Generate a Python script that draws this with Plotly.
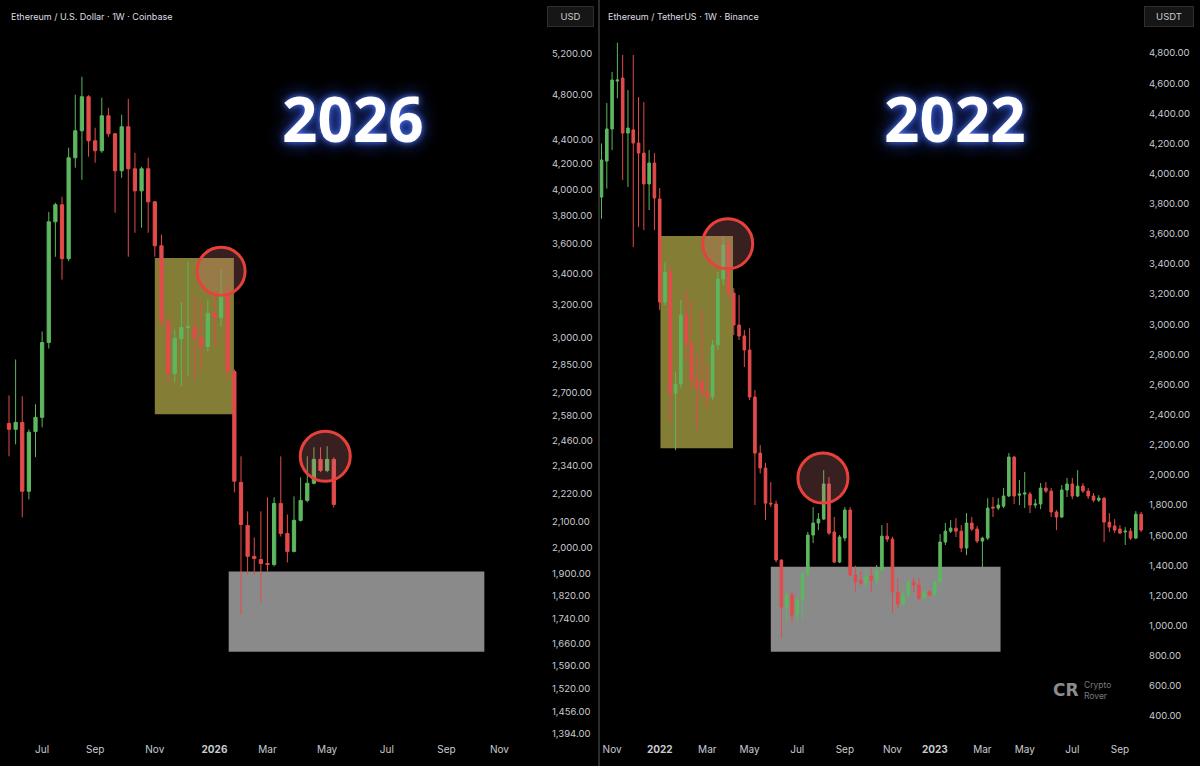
import math
import pandas as pd
import plotly.graph_objects as go

W, H = 1200, 766

# ---------------- LEFT PANEL : Ethereum / U.S. Dollar, 1W, Coinbase ----------------
left_start = "2025-06-02"
left_open = [2542, 2513, 2547, 2229, 2503, 2572, 2973, 3756, 3882, 3497, 4252, 4480, 4785, 4394, 4310,
             4612, 4454, 4146, 4515, 4162, 3988, 4162, 3904, 3586, 3096, 2800, 2996, 3061, 3061, 3002,
             2950, 3144, 3120, 3275, 2811, 2268, 2086, 1965, 1953, 1938, 1934, 2177, 2054, 1984, 2107,
             2190, 2264, 2371, 2321, 2371]
left_close = [2513, 2547, 2229, 2499, 2572, 2973, 3756, 3882, 3497, 4252, 4480, 4785, 4394, 4310, 4612,
              4454, 4146, 4515, 4162, 3988, 4162, 3904, 3586, 3096, 2800, 2996, 3061, 3066, 3002, 2950,
              3144, 3120, 3268, 2811, 2273, 2090, 1965, 1957, 1938, 1934, 2177, 2054, 1984, 2107, 2190,
              2264, 2371, 2321, 2371, 2173]
left_high = [2684, 2877, 2679, 2513, 2638, 3037, 3829, 3897, 3942, 4335, 4804, 4974, 4800, 4506, 4776,
             4684, 4460, 4621, 4766, 4293, 4179, 4252, 3910, 3663, 3120, 3049, 3212, 3477, 3249, 3212,
             3231, 3281, 3423, 3325, 2822, 2385, 2144, 2038, 2144, 2203, 2203, 2385, 2131, 2207, 2290,
             2385, 2427, 2427, 2432, 2380]
left_low = [2385, 2441, 2119, 2194, 2381, 2523, 2939, 3510, 3358, 3480, 4171, 4074, 4260, 4211, 4293,
            4428, 3822, 4090, 3510, 3677, 3713, 3677, 3510, 3060, 2752, 2752, 2731, 2784, 2768, 2822,
            2922, 2950, 3066, 2768, 2224, 1756, 1897, 1897, 1797, 1908, 1927, 2042, 1942, 1980, 2102,
            2182, 2259, 2313, 2313, 2160]

left_price_ticks = [5200, 4800, 4400, 4200, 4000, 3800, 3600, 3400, 3200, 3000, 2850, 2700, 2580, 2460,
                    2340, 2220, 2100, 2000, 1900, 1820, 1740, 1660, 1590, 1520, 1456, 1394]
left_month_ticks = ["2025-07-07", "2025-09-01", "2025-11-03", "2026-01-05", "2026-03-02", "2026-05-04",
                    "2026-07-06", "2026-09-07", "2026-11-02"]
left_month_labels = ["Jul", "Sep", "Nov", "<b>2026</b>", "Mar", "May", "Jul", "Sep", "Nov"]

# zones (start, end, low price, high price) and circles (date, price, radius px)
left_yellow_zone = ("2025-11-03", "2026-01-25 12:00", 2588, 3501)
left_gray_zone = ("2026-01-20", "2026-10-17", 1634, 1908)
left_circles = [("2026-01-12", 3413, 24), ("2026-05-02", 2385, 25)]

# ---------------- RIGHT PANEL : Ethereum / TetherUS, 1W, Binance ----------------
right_start = "2021-10-18"
right_open = [3844, 4083, 4296, 4614, 4634, 4269, 4290, 4203, 4136, 3931, 4070, 3831, 3147, 3346, 2543,
              2603, 3061, 2875, 2630, 2617, 2550, 2517, 2862, 3300, 3526, 3207, 2995, 2922, 2829, 2517,
              2145, 2046, 1813, 1807, 1435, 1123, 1203, 1070, 1170, 1342, 1601, 1681, 1707, 1940, 1621,
              1422, 1581, 1767, 1336, 1302, 1282, 1329, 1302, 1369, 1594, 1574, 1223, 1143, 1203, 1289,
              1269, 1183, 1223, 1203, 1289, 1555, 1627, 1647, 1627, 1515, 1681, 1641, 1561, 1581, 1787,
              1780, 1793, 1860, 2119, 1866, 1873, 1873, 1800, 1807, 1913, 1893, 1754, 1721, 1900, 1940,
              1860, 1926, 1893, 1860, 1833, 1846, 1687, 1661, 1641, 1621, 1627, 1581, 1740]
right_close = [4090, 4296, 4621, 4621, 4269, 4302, 4203, 4136, 3931, 4070, 3838, 3147, 3346, 2543, 2603,
               3061, 2875, 2630, 2583, 2550, 2517, 2862, 3300, 3526, 3207, 2995, 2922, 2829, 2517, 2145,
               2046, 1813, 1807, 1435, 1123, 1203, 1070, 1170, 1342, 1601, 1681, 1707, 1940, 1614, 1422,
               1588, 1767, 1336, 1291, 1282, 1324, 1302, 1369, 1594, 1574, 1223, 1143, 1203, 1289, 1269,
               1183, 1223, 1203, 1289, 1555, 1627, 1647, 1627, 1515, 1681, 1641, 1561, 1581, 1780, 1780,
               1800, 1860, 2119, 1860, 1873, 1880, 1800, 1807, 1913, 1893, 1754, 1721, 1900, 1940, 1860,
               1926, 1893, 1860, 1833, 1846, 1687, 1654, 1634, 1614, 1627, 1581, 1740, 1634]
right_high = [4200, 4468, 4674, 4868, 4787, 4554, 4787, 4508, 4475, 4156, 4136, 3904, 3413, 3390, 2683,
              3161, 3227, 3161, 2796, 3094, 2730, 2895, 3347, 3579, 3559, 3240, 3194, 2962, 2975, 2563,
              2198, 2080, 1953, 1830, 1440, 1236, 1223, 1190, 1355, 1621, 1787, 1747, 2032, 1986, 1721,
              1601, 1787, 1787, 1397, 1358, 1382, 1382, 1402, 1667, 1681, 1590, 1316, 1225, 1302, 1322,
              1316, 1236, 1236, 1302, 1608, 1681, 1701, 1714, 1667, 1747, 1721, 1661, 1590, 1846, 1853,
              1846, 1913, 2145, 2125, 1966, 2019, 1887, 1840, 1946, 1953, 1913, 1767, 1933, 1980, 1980,
              2032, 1946, 1913, 1880, 1866, 1853, 1747, 1707, 1667, 1654, 1647, 1760, 1754]
right_low = [3700, 3900, 4156, 4500, 3957, 3911, 3512, 3645, 3625, 3758, 3625, 3094, 3127, 2350, 2165,
             2577, 2762, 2563, 2298, 2500, 2440, 2497, 2829, 3260, 3161, 2928, 2895, 2716, 2497, 1800,
             2010, 1701, 1787, 1420, 917, 1030, 1017, 1024, 1037, 1322, 1548, 1634, 1701, 1601, 1415,
             1415, 1560, 1331, 1225, 1269, 1249, 1223, 1269, 1355, 1555, 1083, 1117, 1130, 1183, 1223,
             1170, 1180, 1196, 1196, 1282, 1535, 1614, 1588, 1488, 1468, 1627, 1548, 1389, 1568, 1721,
             1767, 1780, 1853, 1807, 1800, 1780, 1747, 1780, 1773, 1880, 1721, 1634, 1714, 1853, 1840,
             1853, 1880, 1840, 1820, 1820, 1555, 1621, 1614, 1608, 1535, 1568, 1574, 1621]

right_price_ticks = [4800, 4600, 4400, 4200, 4000, 3800, 3600, 3400, 3200, 3000, 2800, 2600, 2400, 2200,
                     2000, 1800, 1600, 1400, 1200, 1000, 800, 600, 400]
right_month_ticks = ["2021-11-01", "2022-01-03", "2022-03-07", "2022-05-02", "2022-07-04", "2022-09-05",
                     "2022-11-07", "2023-01-02", "2023-03-06", "2023-05-01", "2023-07-03", "2023-09-04"]
right_month_labels = ["Nov", "<b>2022</b>", "Mar", "May", "Jul", "Sep", "Nov", "<b>2023</b>", "Mar",
                      "May", "Jul", "Sep"]

right_yellow_zone = ("2022-01-04", "2022-04-10", 2178, 3585)
right_gray_zone = ("2022-05-30", "2023-03-30", 826, 1391)
right_circles = [("2022-04-03", 3534, 25), ("2022-08-07", 1979, 25)]

# ---------------- styling ----------------
GREEN = "#5db760"
RED = "#e34b4b"
TXT = "#c9cbd0"
FONT = "Inter"
YELLOW = "#847d36"
GRAY = "#8a8a8a"

left_dates = pd.date_range(left_start, periods=len(left_open), freq="7D")
right_dates = pd.date_range(right_start, periods=len(right_open), freq="7D")

fig = go.Figure()


def zone_trace(z, color, xa, ya):
    x0, x1, p0, p1 = pd.Timestamp(z[0]), pd.Timestamp(z[1]), z[2], z[3]
    mid = x0 + (x1 - x0) / 2
    return go.Bar(x=[mid], y=[p1 - p0], base=[p0], width=[(x1 - x0).total_seconds() * 1000],
                  marker=dict(color=color, line=dict(width=0)),
                  xaxis=xa, yaxis=ya, hoverinfo="skip", showlegend=False)


def candles(x, o, h, l, c, xa, ya):
    return go.Candlestick(
        x=x, open=o, high=h, low=l, close=c, xaxis=xa, yaxis=ya,
        increasing=dict(line=dict(color=GREEN, width=1), fillcolor=GREEN),
        decreasing=dict(line=dict(color=RED, width=1), fillcolor=RED),
        whiskerwidth=0, showlegend=False, hoverinfo="skip",
    )


def circle_trace(circles, xa, ya):
    return go.Scatter(x=[c[0] for c in circles], y=[c[1] for c in circles], mode="markers",
                      marker=dict(symbol="circle", size=[2 * c[2] for c in circles], opacity=1,
                                  color="rgba(205,115,115,0.28)",
                                  line=dict(width=3, color="#e8403a")),
                      xaxis=xa, yaxis=ya, hoverinfo="skip", showlegend=False)


# zones (bar layer sits under the candles)
fig.add_trace(zone_trace(left_yellow_zone, YELLOW, "x", "y"))
fig.add_trace(zone_trace(left_gray_zone, GRAY, "x", "y"))
fig.add_trace(zone_trace(right_yellow_zone, YELLOW, "x2", "y2"))
fig.add_trace(zone_trace(right_gray_zone, GRAY, "x2", "y2"))
# candles
fig.add_trace(candles(left_dates, left_open, left_high, left_low, left_close, "x", "y"))
fig.add_trace(candles(right_dates, right_open, right_high, right_low, right_close, "x2", "y2"))
# circles above candles
fig.add_trace(circle_trace(left_circles, "x", "y"))
fig.add_trace(circle_trace(right_circles, "x2", "y2"))

px_top, px_bottom = 0, 740
ydom = [(H - px_bottom) / H, 1 - px_top / H]

common_x = dict(type="date", showgrid=False, zeroline=False, showline=False, ticks="",
                tickfont=dict(family=FONT, size=10, color=TXT), rangeslider=dict(visible=False),
                fixedrange=True, ticklabelstandoff=2)
common_y = dict(showgrid=False, zeroline=False, showline=False, ticks="", side="right",
                tickfont=dict(family=FONT, size=9.5, color=TXT), fixedrange=True)

fig.update_layout(
    width=W, height=H,
    margin=dict(l=0, r=0, t=0, b=0),
    paper_bgcolor="#000000", plot_bgcolor="#000000",
    boxgap=0.3, barmode="overlay",
    xaxis=dict(domain=[0, 544 / W], anchor="y",
               range=["2025-05-23 12:00", "2026-12-19"],
               tickvals=left_month_ticks, ticktext=left_month_labels, **common_x),
    yaxis=dict(domain=ydom, anchor="x", type="log",
               range=[math.log10(1377), math.log10(5771)],
               tickvals=left_price_ticks, ticktext=[f"{v:,.2f}" for v in left_price_ticks],
               ticklabelstandoff=7, **common_y),
    xaxis2=dict(domain=[600 / W, 1143 / W], anchor="y2",
                range=["2021-10-16", "2023-10-04 12:00"],
                tickvals=right_month_ticks, ticktext=right_month_labels, **common_x),
    yaxis2=dict(domain=ydom, anchor="x2", type="linear",
                range=[241, 5152],
                tickvals=right_price_ticks, ticktext=[f"{v:,.2f}" for v in right_price_ticks],
                ticklabelstandoff=5, **common_y),
)

# panel divider
fig.add_shape(type="line", xref="paper", yref="paper", x0=599 / W, x1=599 / W, y0=0, y1=1,
              line=dict(color="#2c2c2c", width=2), layer="above")


def px_x(v):
    return v / W


def px_y(v):
    return 1 - v / H


def note(text, x, y, **kw):
    d = dict(text=text, x=px_x(x), y=px_y(y), xref="paper", yref="paper",
             xanchor="left", yanchor="middle", showarrow=False)
    d.update(kw)
    fig.add_annotation(**d)


note("Ethereum / U.S. Dollar · 1W · Coinbase", 9, 17, font=dict(family=FONT, size=9, color="#dcdee2"))
note("Ethereum / TetherUS · 1W · Binance", 606, 17, font=dict(family=FONT, size=9, color="#dcdee2"))
for label, cx, w in [("USD", 570.5, 43), ("USDT", 1169, 46)]:
    note(label, cx, 17, xanchor="center", width=w, height=17, bgcolor="#161616",
         bordercolor="#2f2f2f", borderwidth=1, borderpad=1,
         font=dict(family=FONT, size=9.5, color=TXT))

glow = "0px 0px 6px rgba(90,130,255,0.95), 0px 0px 18px rgba(50,90,255,0.85)"
for label, cx in [("2026", 353), ("2022", 955)]:
    note(label, cx, 118, xanchor="center",
         font=dict(family="Open Sans", size=62, color="#ffffff", weight="bold", shadow=glow))

# watermark
note("<b>CR</b>", 1066, 690, xanchor="center", font=dict(family="DejaVu Sans", size=17, color="#8c8c8c"))
note("Crypto<br>Rover", 1082, 690, align="left", font=dict(family=FONT, size=8.5, color="#7a7a7a"))

fig.write_html("out.html", config={"displayModeBar": False},
               post_script="document.body.style.margin='0px';")
